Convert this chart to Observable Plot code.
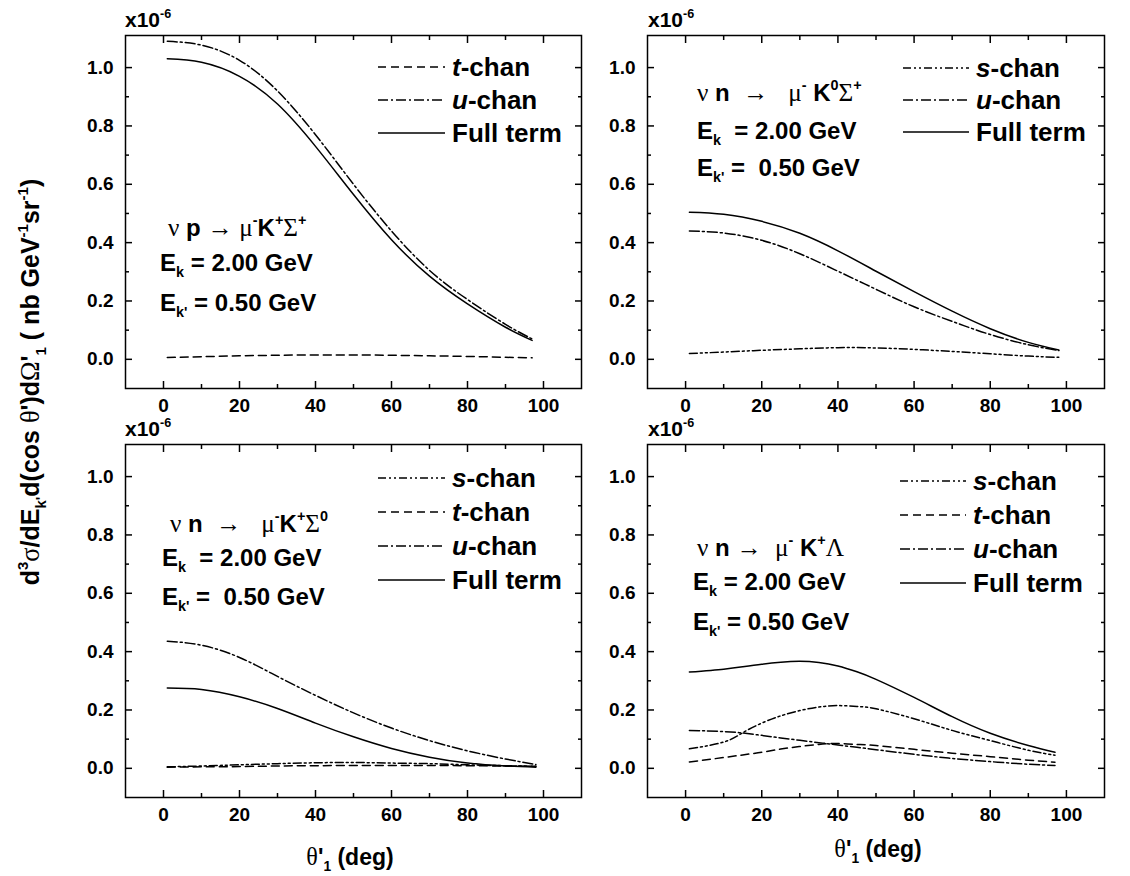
<!DOCTYPE html>
<html><head><meta charset="utf-8">
<script src="https://cdn.jsdelivr.net/npm/d3@7"></script>
<script src="https://cdn.jsdelivr.net/npm/@observablehq/plot@0.6"></script>
<style>
body{margin:0;background:#fff;}
#fig{position:relative;width:1130px;height:876px;font-family:"Liberation Sans",Arial,sans-serif;font-weight:bold;color:#000;overflow:hidden;background:#fff}
.abs{position:absolute;white-space:nowrap;line-height:1}
.sym{font-family:"Liberation Serif","Times New Roman",serif;font-weight:normal;font-size:1.05em}
sup,sub{font-size:0.6em;line-height:0;position:relative;vertical-align:baseline}
sup{top:-0.75em} sub{top:0.45em}
.leg{position:absolute;display:flex;align-items:center;white-space:nowrap;font-size:26px;line-height:1}
.leg svg{display:block;margin-right:7px}
</style></head><body><div id="fig"></div>
<script>
// ---------- data (values in units of 1e-6) ----------
const xMajor = [0, 20, 40, 60, 80, 100];
const xMinor = [10, 30, 50, 70, 90];
const yMajor = [0, 0.2, 0.4, 0.6, 0.8, 1.0];
const yMinor = [0.1, 0.3, 0.5, 0.7, 0.9];

// Panel 1: nu p -> mu- K+ Sigma+
const thetaTL = [1, 10, 20, 30, 40, 50, 60, 70, 80, 90, 97];
const tlTchan = [0.006, 0.009, 0.012, 0.014, 0.015, 0.015, 0.014, 0.012, 0.01, 0.007, 0.005];
const tlUchan = [1.09, 1.077, 1.025, 0.92, 0.77, 0.60, 0.44, 0.305, 0.205, 0.12, 0.07];
const tlFull  = [1.03, 1.018, 0.97, 0.875, 0.73, 0.565, 0.41, 0.285, 0.19, 0.11, 0.065];

// Panel 2: nu n -> mu- K0 Sigma+
const thetaTR = [1, 10, 20, 30, 40, 50, 60, 70, 80, 90, 98];
const trSchan = [0.02, 0.025, 0.031, 0.036, 0.04, 0.039, 0.034, 0.027, 0.019, 0.011, 0.007];
const trUchan = [0.44, 0.433, 0.408, 0.362, 0.302, 0.24, 0.18, 0.13, 0.085, 0.05, 0.03];
const trFull  = [0.504, 0.497, 0.473, 0.432, 0.372, 0.302, 0.232, 0.165, 0.105, 0.058, 0.032];

// Panel 3: nu n -> mu- K+ Sigma0
const thetaBL = [1, 10, 20, 30, 40, 50, 60, 70, 80, 90, 98];
const blSchan = [0.005, 0.008, 0.012, 0.016, 0.019, 0.02, 0.018, 0.016, 0.012, 0.009, 0.007];
const blTchan = [0.004, 0.005, 0.006, 0.008, 0.009, 0.01, 0.01, 0.01, 0.009, 0.008, 0.007];
const blUchan = [0.436, 0.422, 0.38, 0.315, 0.25, 0.19, 0.138, 0.095, 0.06, 0.032, 0.013];
const blFull  = [0.275, 0.27, 0.245, 0.205, 0.155, 0.108, 0.068, 0.038, 0.018, 0.008, 0.004];

// Panel 4: nu n -> mu- K+ Lambda
const thetaBR = [1, 10, 15, 20, 25, 30, 35, 40, 45, 50, 60, 70, 80, 90, 97];
const brSchan = [0.067, 0.09, 0.122, 0.155, 0.18, 0.198, 0.21, 0.215, 0.212, 0.204, 0.17, 0.13, 0.095, 0.062, 0.045];
const brTchan = [0.022, 0.037, 0.046, 0.055, 0.066, 0.075, 0.082, 0.085, 0.082, 0.078, 0.065, 0.052, 0.04, 0.028, 0.021];
const brUchan = [0.13, 0.126, 0.121, 0.113, 0.104, 0.096, 0.088, 0.08, 0.072, 0.064, 0.048, 0.034, 0.023, 0.014, 0.01];
const brFull  = [0.33, 0.34, 0.348, 0.357, 0.364, 0.367, 0.363, 0.351, 0.331, 0.305, 0.243, 0.177, 0.12, 0.078, 0.055];

// ---------- styles ----------
const DASH = {s: "8,3,2,3,2,3", t: "8,5", u: "10,3,2,3", full: null};
const fig = document.getElementById("fig");

function makePanel(cfg) {
  const tickOpts = {stroke: "black", strokeWidth: 1.5, label: null};
  const lines = cfg.series.map(s => {
    const rows = cfg.theta.map((t, i) => ({theta: t, value: s.values[i]}));
    return Plot.line(rows, {x: "theta", y: "value", stroke: "black", strokeWidth: 1.5,
      strokeDasharray: DASH[s.kind] || undefined, curve: "natural"});
  });
  const chart = Plot.plot({
    width: cfg.width, height: 430,
    marginLeft: cfg.mL, marginRight: cfg.mR, marginTop: 35, marginBottom: 42,
    x: {domain: [-10, 110]},
    y: {domain: [-0.1, 1.11]},
    style: {fontFamily: '"Liberation Sans", Arial, sans-serif', fontSize: "19px", fontWeight: "bold",
            background: "transparent", overflow: "visible", color: "black"},
    marks: [
      ...lines,
      Plot.axisX(xMajor, {...tickOpts, anchor: "bottom", tickSize: -7, tickPadding: 17, tickFormat: d3.format("d")}),
      Plot.axisX(xMinor, {...tickOpts, anchor: "bottom", tickSize: -4, fill: "none"}),
      Plot.axisX(xMajor, {...tickOpts, anchor: "top", tickSize: -7, fill: "none"}),
      Plot.axisX(xMinor, {...tickOpts, anchor: "top", tickSize: -4, fill: "none"}),
      Plot.axisY(yMajor, {...tickOpts, anchor: "left", tickSize: -7, tickPadding: 19, tickFormat: d3.format(".1f")}),
      Plot.axisY(yMinor, {...tickOpts, anchor: "left", tickSize: -4, fill: "none"}),
      Plot.axisY(yMajor, {...tickOpts, anchor: "right", tickSize: -7, fill: "none"}),
      Plot.axisY(yMinor, {...tickOpts, anchor: "right", tickSize: -4, fill: "none"}),
      Plot.frame({stroke: "black", strokeWidth: 1.5})
    ]
  });
  const wrap = document.createElement("div");
  wrap.style.cssText = `position:absolute;left:${cfg.left}px;top:${cfg.top}px;`;
  wrap.appendChild(chart);
  fig.appendChild(wrap);
}

function addHTML(x, y, html, extra = "") {
  const d = document.createElement("div");
  d.className = "abs";
  d.style.cssText += `left:${x}px;top:${y}px;${extra}`;
  d.innerHTML = html;
  fig.appendChild(d);
  return d;
}

function addLegend(x, y0, step, lineLen, entries) {
  entries.forEach((e, i) => {
    const d = document.createElement("div");
    d.className = "leg";
    d.style.left = x + "px";
    d.style.top = (y0 + i * step - 13) + "px";
    d.style.height = "26px";
    const dash = DASH[e.kind];
    d.innerHTML = `<svg width="${lineLen}" height="6"><line x1="0" y1="3" x2="${lineLen}" y2="3" stroke="black" stroke-width="1.5" ${dash ? `stroke-dasharray="${dash}"` : ""}/></svg><span>${e.label}</span>`;
    fig.appendChild(d);
  });
}

const LBL = {
  s: '<i>s</i>-chan', t: '<i>t</i>-chan', u: '<i>u</i>-chan', full: 'Full term'
};

// ---------- panels ----------
makePanel({left: 0, top: 0, width: 590, mL: 125, mR: 9, theta: thetaTL,
  series: [{kind: "t", values: tlTchan}, {kind: "u", values: tlUchan}, {kind: "full", values: tlFull}]});
makePanel({left: 565, top: 0, width: 565, mL: 82, mR: 26, theta: thetaTR,
  series: [{kind: "s", values: trSchan}, {kind: "u", values: trUchan}, {kind: "full", values: trFull}]});
makePanel({left: 0, top: 409, width: 590, mL: 125, mR: 9, theta: thetaBL,
  series: [{kind: "s", values: blSchan}, {kind: "t", values: blTchan}, {kind: "u", values: blUchan}, {kind: "full", values: blFull}]});
makePanel({left: 565, top: 409, width: 565, mL: 82, mR: 26, theta: thetaBR,
  series: [{kind: "s", values: brSchan}, {kind: "t", values: brTchan}, {kind: "u", values: brUchan}, {kind: "full", values: brFull}]});

// ---------- "x10^-6" multipliers ----------
const mult = 'x10<sup>-6</sup>';
addHTML(125, 9, mult, "font-size:21px");
addHTML(648, 9, mult, "font-size:21px");
addHTML(125, 418, mult, "font-size:21px");
addHTML(648, 418, mult, "font-size:21px");

// ---------- legends ----------
addLegend(378, 67, 33, 67, [{kind: "t", label: LBL.t}, {kind: "u", label: LBL.u}, {kind: "full", label: LBL.full}]);
addLegend(903, 68, 32, 66, [{kind: "s", label: LBL.s}, {kind: "u", label: LBL.u}, {kind: "full", label: LBL.full}]);
addLegend(378, 478, 34, 67, [{kind: "s", label: LBL.s}, {kind: "t", label: LBL.t}, {kind: "u", label: LBL.u}, {kind: "full", label: LBL.full}]);
addLegend(900, 481, 34, 66, [{kind: "s", label: LBL.s}, {kind: "t", label: LBL.t}, {kind: "u", label: LBL.u}, {kind: "full", label: LBL.full}]);

// ---------- annotations ----------
const S = t => `<span class="sym">${t}</span>`;
const FS = "font-size:24px";
addHTML(168, 215, `${S("ν")} p ${S("→")} ${S("μ")}<sup>-</sup>K<sup>+</sup>${S("Σ")}<sup>+</sup>`, FS);
addHTML(160, 251, `E<sub>k</sub> = 2.00 GeV`, FS);
addHTML(160, 291, `E<sub>k'</sub> = 0.50 GeV`, FS);

addHTML(697, 80, `${S("ν")} n &nbsp;${S("→")} &nbsp; ${S("μ")}<sup>-</sup> K<sup>0</sup>${S("Σ")}<sup>+</sup>`, FS);
addHTML(697, 119, `E<sub>k</sub> &nbsp;= 2.00 GeV`, FS);
addHTML(697, 156, `E<sub>k'</sub> = &nbsp;0.50 GeV`, FS);

addHTML(170, 511, `${S("ν")} n &nbsp;${S("→")} &nbsp; ${S("μ")}<sup>-</sup>K<sup>+</sup>${S("Σ")}<sup>0</sup>`, FS);
addHTML(162, 546, `E<sub>k</sub> &nbsp;= 2.00 GeV`, FS);
addHTML(162, 585, `E<sub>k'</sub> = &nbsp;0.50 GeV`, FS);

addHTML(697, 535, `${S("ν")} n ${S("→")} &nbsp;${S("μ")}<sup>-</sup> K<sup>+</sup>${S("Λ")}`, FS);
addHTML(693, 570, `E<sub>k</sub> = 2.00 GeV`, FS);
addHTML(693, 610, `E<sub>k'</sub> = 0.50 GeV`, FS);

// ---------- axis titles ----------
const xt = `${S("θ")}'<sub>1</sub> (deg)`;
addHTML(350, 857, xt, "font-size:23px;transform:translate(-50%,-50%)");
addHTML(878, 849, xt, "font-size:23px;transform:translate(-50%,-50%)");
addHTML(31, 382,
  `d<sup>3</sup>${S("σ")}/dE<sub>k'</sub>d(cos ${S("θ")}')d${S("Ω")}'<sub>1</sub> ( nb GeV<sup>-1</sup>sr<sup>-1</sup>)`,
  "font-size:25px;transform:translate(-50%,-50%) rotate(-90deg);transform-origin:center");
</script></body></html>
